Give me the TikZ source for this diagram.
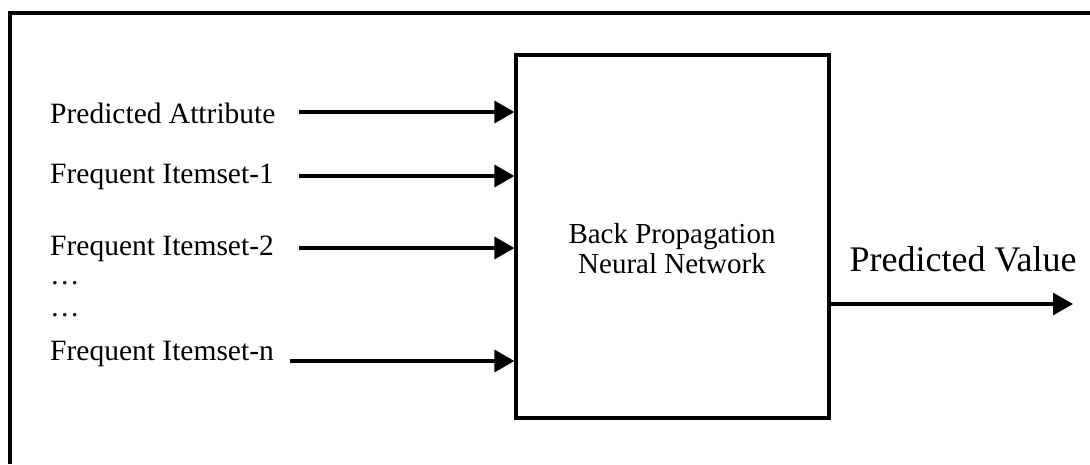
\documentclass[tikz,border=0pt]{standalone}
\usepackage{fontspec}
\setmainfont{Liberation Serif}
\usetikzlibrary{arrows.meta}
\begin{document}
\begin{tikzpicture}[x=1pt,y=-1pt,
  lbl/.style={anchor=west,inner sep=0pt,font=\fontsize{29.5}{34}\selectfont},
  flow/.style={line width=3.2pt,-{Triangle[length=20pt,width=22pt]}},
  frame/.style={line width=3.8pt},
  nnbox/.style={draw,line width=3.2pt,minimum width=313pt,minimum height=363pt,inner sep=0pt},
  nntext/.style={inner sep=0pt,align=center,font=\fontsize{29}{30}\selectfont}]
\useasboundingbox (0,0) rectangle (1090,464);
\draw[frame] (1090,13) -- (10,13) -- (10,464);
\node[nnbox] (nn) at (672.5,236.5) {};
\node[nntext] (nnt) at (672,249) {Back Propagation\\Neural Network};
\node[lbl] (l1) at (50,113) {Predicted Attribute};
\node[lbl] (l2) at (50,177) {Frequent Itemset-1};
\node[lbl] (l3) at (50,249) {Frequent Itemset-2};
\node[lbl] (d1) at (50,283) {\dots};
\node[lbl] (d2) at (50,315) {\dots};
\node[lbl] (l4) at (50,354) {Frequent Itemset-n};
\coordinate (s1) at (299,112);
\coordinate (s2) at (299,176);
\coordinate (s3) at (299,248);
\coordinate (s4) at (290,361);
\draw[flow] (s1) -- (s1 -| nn.west);
\draw[flow] (s2) -- (s2 -| nn.west);
\draw[flow] (s3) -- (s3 -| nn.west);
\draw[flow] (s4) -- (s4 -| nn.west);
\coordinate (out) at (1073,304);
\draw[flow] (out -| nn.east) -- (out);
\node[lbl,anchor=center,font=\fontsize{36}{40}\selectfont] (pv) at (963,259) {Predicted Value};
\end{tikzpicture}
\end{document}
